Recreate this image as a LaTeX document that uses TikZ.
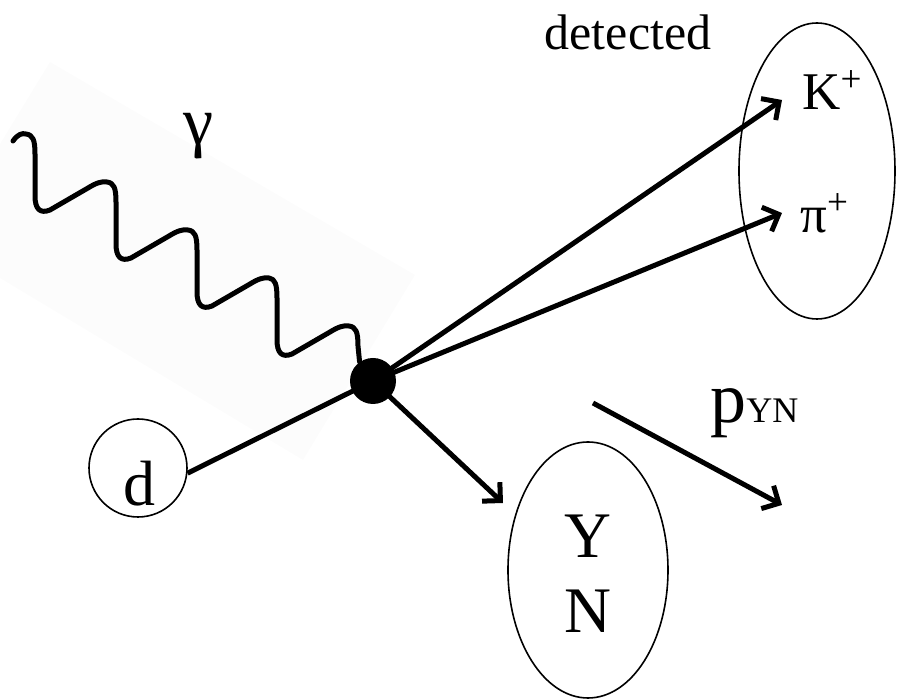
\documentclass[tikz,border=0pt]{standalone}
\usepackage{fontspec}
\setmainfont{Liberation Serif}
\usetikzlibrary{shapes.geometric,arrows.meta,backgrounds}
\begin{document}
\begin{tikzpicture}[x=0.5pt,y=-0.5pt,
  thickline/.style={line width=2.5pt},
  arr/.style={line width=2.5pt,-{Straight Barb[length=6.5pt,width=13pt]}},
  photon/.style={line width=2.5pt,line join=round,line cap=round},
  outline/.style={draw,line width=0.8pt,inner sep=0pt},
  lbl/.style={inner sep=0pt,anchor=base}
]
\useasboundingbox (0,0) rectangle (902,699);

% nodes
\node[circle,fill=black,minimum size=23pt,inner sep=0pt] (vtx) at (373,381) {};
\node[circle,outline,minimum size=49pt] (d) at (138,468) {};
\node[ellipse,outline,minimum width=78pt,minimum height=148pt] (kp) at (817,171) {};
\node[ellipse,outline,minimum width=80pt,minimum height=128pt] (yn) at (588,570) {};

% labels
\node[lbl,font=\fontsize{32}{36}\selectfont] (dlab) at (139,506) {d};
\node[lbl,font=\fontsize{32.5}{37.5}\selectfont] (ylab) at (588,558) {Y};
\node[lbl,font=\fontsize{32.5}{37.5}\selectfont] (nlab) at (588,633) {N};
\node[lbl,anchor=base west,font=\fontsize{26.5}{30}\selectfont] (klab) at (802,110) {K\textsuperscript{+}};
\node[lbl,anchor=base west,font=\fontsize{26.5}{30}\selectfont] (pilab) at (800,233) {π\textsuperscript{+}};
\node[lbl,font=\fontsize{25}{30}\selectfont] (det) at (628,50) {detected};
\node[lbl,font=\fontsize{34}{38}\selectfont] (gam) at (199,145) {γ};
\node[lbl,anchor=base west,font=\fontsize{36}{40}\selectfont] (pyn) at (710,423) {p{\fontsize{18}{20}\selectfont YN}};

% free ends of the arrows
\coordinate (kt) at (782,100);
\coordinate (pt) at (782,213);
\coordinate (yt) at (503,503);
\coordinate (pa) at (593,403);
\coordinate (pb) at (782,505);

\begin{scope}[on background layer]
\fill[black!1] (0,144) -- (50,62) -- (415,275) -- (303,460) -- (0,278) -- cycle;
\draw[thickline] (vtx.center) -- (d.-6);
\draw[arr] (vtx.center) -- (kt);
\draw[arr] (vtx.center) -- (pt);
\draw[arr] (vtx.center) -- (yt);
\draw[photon] (13,141) .. controls (18,134) and (22,133) .. (26,134)
  \foreach \cx/\cy in {26/134,107/182,188/230,268/278} {
    .. controls (\cx+7,\cy+1) and (\cx+9,\cy+6) .. (\cx+9,\cy+20)
    -- (\cx+9,\cy+62)
    .. controls (\cx+9,\cy+75) and (\cx+14,\cy+80) .. (\cx+24,\cy+76)
    -- (\cx+62,\cy+54)
    .. controls (\cx+70,\cy+49) and (\cx+76,\cy+47) .. (\cx+81,\cy+48)
  }
  .. controls (356,327) and (358,332) .. (358,346) -- (vtx.125);
\end{scope}
\draw[arr] (pa) -- (pb);
\end{tikzpicture}
\end{document}
